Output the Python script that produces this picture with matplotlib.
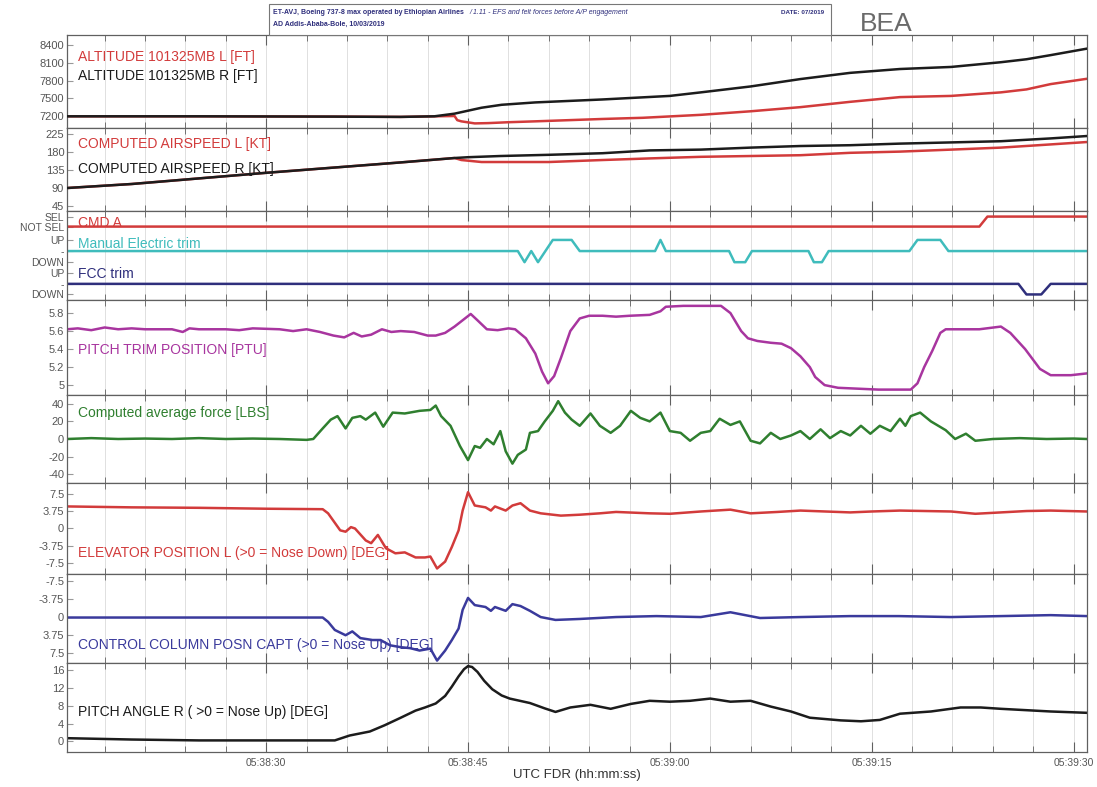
import matplotlib
matplotlib.use("Agg")
import matplotlib.pyplot as plt
from matplotlib.patches import Rectangle
from matplotlib.ticker import MultipleLocator, FuncFormatter

plt.rcParams["font.family"] = ["Liberation Sans", "DejaVu Sans"]
plt.rcParams["axes.unicode_minus"] = False

# ── Data: time in seconds after 05:38:00 UTC ─────────────────────────────────

alt_r_t = [15.2, 25, 35, 40, 42.5, 44, 45, 46, 47.5, 50, 55, 60, 62.3, 66, 69.7, 73.4, 77.1, 80.9, 84.6, 86.5, 88.3, 91]
alt_r_v = [7195, 7195, 7190, 7185, 7195, 7240, 7290, 7340, 7390, 7430, 7480, 7540, 7600, 7700, 7825, 7930, 7995, 8030, 8110, 8160, 8230, 8340]
alt_l_t = [15.2, 25, 35, 40, 42.5, 44, 44.2, 44.5, 45.5, 46.5, 48, 50, 55, 58, 62.3, 66, 69.7, 73.4, 77.1, 80.9, 84.6, 86.5, 88.3, 91]
alt_l_v = [7195, 7195, 7190, 7185, 7195, 7200, 7130, 7110, 7075, 7080, 7095, 7110, 7150, 7170, 7220, 7280, 7350, 7440, 7520, 7540, 7600, 7650, 7740, 7830]

cas_r_t = [15.2, 20, 25, 30, 35, 40, 44, 45, 47.4, 51, 55, 58.5, 62.3, 66, 69.7, 73.4, 77.1, 80.9, 84.6, 88.3, 91]
cas_r_v = [90, 100, 114, 128, 141, 154, 165, 167, 170, 173, 177, 184, 186, 191, 195, 197, 201, 204, 207, 214, 220]
cas_l_t = [15.2, 20, 25, 30, 35, 40, 44, 44.5, 46, 51, 55, 58.5, 62.3, 66, 69.7, 73.4, 77.1, 80.9, 84.6, 88.3, 91]
cas_l_v = [90, 100, 114, 128, 141, 154, 165, 160, 155, 155, 160, 164, 168, 170, 172, 178, 181, 186, 191, 199, 205]

# discrete states: -1 = DOWN / 0 = none / 1 = UP ; CMD A: 0 = NOT SEL, 1 = SEL
cmd_t = [15.2, 83.0, 83.6, 91]
cmd_s = [0, 0, 1, 1]
man_t = [15.2, 48.7, 49.2, 49.7, 50.2, 51.3, 52.7, 53.3, 58.9, 59.3, 59.7, 64.4, 64.8, 65.6, 66.1,
         70.3, 70.7, 71.3, 71.8, 77.8, 78.4, 80.1, 80.7, 91]
man_s = [0, 0, -1, 0, -1, 1, 1, 0, 0, 1, 0, 0, -1, -1, 0, 0, -1, -1, 0, 0, 1, 1, 0, 0]
fcc_t = [15.2, 85.9, 86.5, 87.6, 88.3, 91]
fcc_s = [0, 0, -1, -1, 0, 0]

trim_t = [15.2, 16, 17, 18, 19, 20, 21, 23, 23.8, 24.3, 25, 27, 28, 29, 31, 32, 33, 34, 35, 35.8, 36.5,
          37.1, 37.8, 38.6, 39.3, 40, 41, 42, 42.6, 43.3, 44, 44.6, 45.2, 45.7, 46.4, 47.2, 48, 48.5,
          49.3, 50, 50.5, 50.95, 51.4, 51.9, 52.6, 53.3, 54, 55, 56, 57, 58.5, 59.3, 59.7, 61, 62,
          63.8, 64.5, 65.3, 65.8, 66.5, 67.5, 68.3, 69, 69.7, 70.4, 70.8, 71.5, 72.5, 74, 75.5, 77.9,
          78.4, 78.9, 79.5, 80.1, 80.5, 81.6, 83, 84.6, 85.3, 86.4, 87.5, 88.3, 89.8, 91]
trim_v = [5.62, 5.63, 5.61, 5.64, 5.62, 5.63, 5.62, 5.62, 5.59, 5.63, 5.62, 5.62, 5.61, 5.63, 5.62,
          5.60, 5.62, 5.59, 5.55, 5.53, 5.58, 5.54, 5.56, 5.62, 5.59, 5.60, 5.59, 5.55, 5.55, 5.58,
          5.65, 5.72, 5.79, 5.72, 5.62, 5.61, 5.63, 5.62, 5.52, 5.35, 5.15, 5.02, 5.10, 5.30, 5.60,
          5.74, 5.77, 5.77, 5.76, 5.77, 5.78, 5.82, 5.87, 5.88, 5.88, 5.88, 5.80, 5.60, 5.52, 5.49,
          5.47, 5.46, 5.41, 5.32, 5.20, 5.09, 5.00, 4.97, 4.96, 4.95, 4.95, 5.02, 5.20, 5.38, 5.58,
          5.62, 5.62, 5.62, 5.65, 5.58, 5.40, 5.18, 5.11, 5.11, 5.13]

force_t = [15.2, 17, 19, 21, 23, 25, 27, 29, 31, 33, 33.5, 34.2, 34.8, 35.3, 35.9, 36.4, 37.0, 37.4,
           38.1, 38.7, 39.4, 40.3, 41.4, 42.2, 42.6, 43.0, 43.7, 44.4, 45.0, 45.5, 45.9, 46.4, 46.9,
           47.4, 47.8, 48.3, 48.7, 49.3, 49.6, 50.2, 50.7, 51.3, 51.7, 52.2, 52.7, 53.3, 54.1, 54.8,
           55.6, 56.3, 57.1, 57.8, 58.5, 59.3, 60.0, 60.8, 61.5, 62.3, 63.0, 63.7, 64.5, 65.2, 66.0,
           66.7, 67.5, 68.2, 69.0, 69.7, 70.4, 71.2, 71.9, 72.7, 73.4, 74.2, 74.9, 75.6, 76.4, 77.1,
           77.5, 77.9, 78.6, 79.4, 80.5, 81.2, 82.0, 82.7, 84, 86, 88, 90, 91]
force_v = [0, 1, 0, 0.5, 0, 1, 0, 0.5, 0, -1, 0, 12, 22, 26, 12, 24, 26, 22, 30, 14, 30, 29, 32, 33,
           38, 26, 15, -8, -24, -8, -10, 0, -6, 9, -14, -28, -18, -12, 7, 9, 20, 32, 43, 30, 22, 15,
           29, 15, 7, 15, 32, 24, 20, 30, 9, 7, -2, 7, 9, 23, 16, 20, -2, -5, 7, 0, 4, 9, 0, 11, 1,
           9, 4, 15, 6, 15, 9, 23, 15, 26, 30, 20, 10, 0, 6, -2, 0, 1, 0, 0.5, 0]

elev_t = [15.2, 20, 25, 30, 34.2, 34.6, 35.5, 35.9, 36.3, 36.6, 37.4, 37.8, 38.3, 38.9, 39.6, 40.3,
          41.1, 41.8, 42.2, 42.7, 43.3, 43.8, 44.3, 44.6, 45.0, 45.5, 46.3, 46.7, 47.0, 47.8, 48.3,
          48.9, 49.6, 50.4, 51.9, 53.3, 54.8, 56, 58.5, 60, 62.3, 64.5, 66, 68, 69.7, 73.4, 75, 77.1,
          80.9, 82.7, 84.6, 86.5, 88.3, 91]
elev_v = [4.8, 4.6, 4.5, 4.3, 4.2, 3.3, -0.4, -0.7, 0.3, 0.0, -2.6, -3.2, -1.4, -4.3, -5.4, -5.2,
          -6.3, -6.3, -6.1, -8.7, -7.2, -4.0, -0.4, 3.9, 7.9, 5.0, 4.6, 3.9, 4.8, 3.9, 5.0, 5.5, 3.9,
          3.3, 2.8, 3.0, 3.3, 3.6, 3.3, 3.2, 3.7, 4.1, 3.3, 3.6, 3.9, 3.5, 3.7, 3.9, 3.7, 3.2, 3.5,
          3.8, 3.9, 3.7]

col_t = [15.2, 25, 34.2, 34.6, 35.1, 35.9, 36.4, 37.0, 37.9, 38.5, 39.2, 40.0, 40.7, 41.4, 42.2, 42.7,
         43.3, 43.8, 44.3, 44.6, 45.0, 45.5, 46.3, 46.7, 47.0, 47.8, 48.3, 48.9, 49.6, 50.4, 51.5,
         53.3, 56, 59, 62.3, 64.5, 66.7, 69.7, 73.4, 77, 80.9, 84.6, 88.3, 91]
col_v = [0.1, 0.1, 0.1, 1.0, 2.7, 3.8, 3.0, 4.4, 4.8, 4.8, 5.9, 6.3, 6.5, 7.0, 6.6, 9.1, 7.0, 4.8,
         2.4, -1.5, -4.0, -2.5, -2.1, -1.3, -2.1, -1.3, -2.7, -2.3, -1.3, 0, 0.6, 0.4, 0.0, -0.2, 0,
         -1.0, 0.2, 0, -0.2, -0.2, 0, -0.2, -0.4, -0.2]

pitch_t = [15.2, 20, 25, 30, 35.1, 36.2, 37.7, 38.8, 40.0, 41.1, 41.8, 42.6, 43.3, 43.8, 44.3, 44.7,
           45.0, 45.3, 45.7, 46.2, 46.8, 47.5, 48.1, 49.6, 50.7, 51.5, 52.6, 54.1, 55.6, 57.1, 58.5,
           60.0, 61.5, 63.0, 64.5, 66.0, 67.5, 69.0, 70.4, 72.7, 74.2, 75.6, 77.1, 79.4, 81.6, 83.1,
           84.6, 88.3, 91]
pitch_v = [0.7, 0.4, 0.2, 0.2, 0.2, 1.3, 2.2, 3.6, 5.3, 6.9, 7.6, 8.5, 10.2, 12.3, 14.6, 16.2,
           16.9, 16.7, 15.6, 13.6, 11.7, 10.3, 9.6, 8.6, 7.4, 6.6, 7.6, 8.2, 7.3, 8.4, 9.1, 8.9,
           9.1, 9.6, 8.9, 9.1, 7.8, 6.7, 5.3, 4.7, 4.5, 4.8, 6.2, 6.7, 7.6, 7.6, 7.3, 6.7, 6.4]

# ── Styles ────────────────────────────────────────────────────────────────────

RED, BLACK, CYAN = "#d23b3b", "#1c1c1c", "#3fbcbc"
NAVY, MAGENTA, GREEN, BLUE = "#2f2f7c", "#a8359f", "#2f7f2f", "#3a3a9c"
TICK_C, GRID_C, SPINE_C = "#555555", "#dadada", "#606060"
LW = 1.8


def hhmmss(s, _pos=None):
    s = int(round(s))
    return f"05:{38 + s // 60:02d}:{s % 60:02d}"


def style(ax):
    ax.set_xlim(15.2, 91.0)
    ax.xaxis.set_major_locator(MultipleLocator(15))
    ax.xaxis.set_minor_locator(MultipleLocator(3))
    ax.grid(True, which="both", axis="x", color=GRID_C, linewidth=0.6)
    ax.tick_params(axis="x", which="major", direction="in", top=True, bottom=True,
                   length=7, color=SPINE_C, labelbottom=False)
    ax.tick_params(axis="x", which="minor", direction="in", top=True, bottom=True,
                   length=4, color=SPINE_C)
    ax.tick_params(axis="y", direction="in", length=4, color="#999999",
                   labelsize=8, labelcolor=TICK_C, pad=2)
    for sp in ax.spines.values():
        sp.set_color(SPINE_C)
        sp.set_linewidth(0.9)


def label(ax, y, text, color):
    ax.text(0.011, y, text, transform=ax.transAxes, color=color, fontsize=10,
            va="center", ha="left", zorder=5)


fig = plt.figure(figsize=(10.97, 7.87), dpi=100)
gs = fig.add_gridspec(8, 1, height_ratios=[93, 83, 89, 95, 88, 91, 89, 89],
                      left=0.0611, right=0.9909, top=0.9555, bottom=0.0445, hspace=0)
axes = [fig.add_subplot(gs[i]) for i in range(8)]
for ax in axes:
    style(ax)

# altitude
ax = axes[0]
ax.plot(alt_r_t, alt_r_v, color=BLACK, lw=LW, zorder=3)
ax.plot(alt_l_t, alt_l_v, color=RED, lw=LW, zorder=2)
ax.set_ylim(6997, 8570)
ax.set_yticks([7200, 7500, 7800, 8100, 8400])
label(ax, 0.763, "ALTITUDE 101325MB L [FT]", RED)
label(ax, 0.559, "ALTITUDE 101325MB R [FT]", BLACK)

# airspeed
ax = axes[1]
ax.plot(cas_l_t, cas_l_v, color=RED, lw=LW, zorder=2)
ax.plot(cas_r_t, cas_r_v, color=BLACK, lw=LW, zorder=3)
ax.set_ylim(32.5, 240)
ax.set_yticks([45, 90, 135, 180, 225])
label(ax, 0.807, "COMPUTED AIRSPEED L [KT]", RED)
label(ax, 0.506, "COMPUTED AIRSPEED R [KT]", BLACK)

# discrete trim / autopilot
ax = axes[2]
ax.plot(cmd_t, [6.1 + 0.9 * s for s in cmd_s], color=RED, lw=LW)
ax.plot(man_t, [3.9 + 1.0 * s for s in man_s], color=CYAN, lw=LW)
ax.plot(fcc_t, [0.95 + 0.95 * s for s in fcc_s], color=NAVY, lw=LW)
ax.set_ylim(-0.5, 7.5)
ax.set_yticks([0, 0.95, 1.9, 2.9, 3.9, 4.9, 6.1, 7.0])
ax.set_yticklabels(["DOWN", "-", "UP", "DOWN", "-", "UP", "NOT SEL", "SEL"])
ax.tick_params(axis="y", labelsize=7.5)
label(ax, 0.865, "CMD A", RED)
label(ax, 0.629, "Manual Electric trim", CYAN)
label(ax, 0.292, "FCC trim", NAVY)

# pitch trim
ax = axes[3]
ax.plot(trim_t, trim_v, color=MAGENTA, lw=LW)
ax.set_ylim(4.89, 5.945)
ax.set_yticks([5, 5.2, 5.4, 5.6, 5.8])
ax.set_yticklabels(["5", "5.2", "5.4", "5.6", "5.8"])
label(ax, 0.474, "PITCH TRIM POSITION [PTU]", MAGENTA)

# force
ax = axes[4]
ax.plot(force_t, force_v, color=GREEN, lw=LW)
ax.set_ylim(-50, 50)
ax.set_yticks([-40, -20, 0, 20, 40])
label(ax, 0.795, "Computed average force [LBS]", GREEN)

# elevator
ax = axes[5]
ax.plot(elev_t, elev_v, color=RED, lw=LW)
ax.set_ylim(-9.9, 9.9)
ax.set_yticks([-7.5, -3.75, 0, 3.75, 7.5])
ax.set_yticklabels(["-7.5", "-3.75", "0", "3.75", "7.5"])
label(ax, 0.231, "ELEVATOR POSITION L (>0 = Nose Down) [DEG]", RED)

# control column (inverted)
ax = axes[6]
ax.plot(col_t, col_v, color=BLUE, lw=LW)
ax.set_ylim(9.6, -9.0)
ax.set_yticks([-7.5, -3.75, 0, 3.75, 7.5])
ax.set_yticklabels(["-7.5", "-3.75", "0", "3.75", "7.5"])
label(ax, 0.202, "CONTROL COLUMN POSN CAPT (>0 = Nose Up) [DEG]", BLUE)

# pitch angle
ax = axes[7]
ax.plot(pitch_t, pitch_v, color=BLACK, lw=LW)
ax.set_ylim(-2.4, 17.6)
ax.set_yticks([0, 4, 8, 12, 16])
label(ax, 0.449, "PITCH ANGLE R ( >0 = Nose Up) [DEG]", BLACK)
ax.tick_params(axis="x", which="major", labelbottom=True, labelsize=7.5,
               labelcolor=TICK_C, pad=4)
ax.xaxis.set_major_formatter(FuncFormatter(hhmmss))
ax.set_xlabel("UTC FDR (hh:mm:ss)", fontsize=9.5, color="#333333", labelpad=1)

# header box
fig.patches.append(Rectangle((0.2452, 0.9555), 0.5123, 0.0395, transform=fig.transFigure,
                             facecolor="white", edgecolor="#777777", linewidth=0.8))
fig.text(0.249, 0.984, "ET-AVJ, Boeing 737-8 max operated by", fontsize=5, color=NAVY,
         weight="bold", va="center")
fig.text(0.368, 0.984, "Ethiopian Airlines", fontsize=5, color=NAVY, weight="bold", va="center")
fig.text(0.4275, 0.984, "/ 1.11 - EFS and felt forces before A/P engagement", fontsize=5,
         color=NAVY, style="italic", va="center")
fig.text(0.249, 0.969, "AD Addis-Ababa-Bole, 10/03/2019", fontsize=5, color=NAVY,
         weight="bold", va="center")
fig.text(0.712, 0.984, "DATE: 07/2019", fontsize=4.5, color=NAVY, weight="bold", va="center")
fig.text(0.784, 0.970, "BEA", fontsize=19, color="#6a6a6a", va="center", ha="left")

fig.savefig("out.png", dpi=100)
